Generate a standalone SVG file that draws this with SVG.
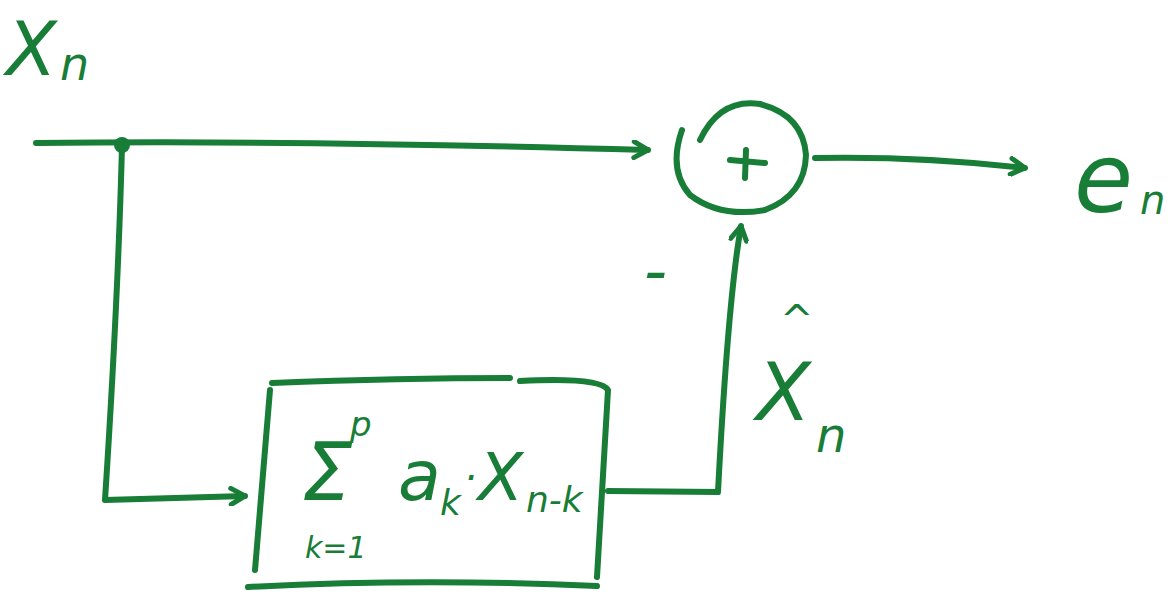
<svg xmlns="http://www.w3.org/2000/svg" width="1171" height="596" viewBox="0 0 1171 596">
<defs>
<style>
.s{fill:none;stroke:#187d36;stroke-width:6;stroke-linecap:round;stroke-linejoin:round}
.t{fill:#187d36;font-family:"DejaVu Sans",sans-serif;font-style:oblique}
</style>
<marker id="ah" viewBox="0 0 20 20" refX="17" refY="10" markerWidth="20" markerHeight="20" markerUnits="userSpaceOnUse" orient="auto">
<path d="M3,2 L17,10 L3,18" fill="none" stroke="#187d36" stroke-width="5" stroke-linecap="round" stroke-linejoin="round"/>
</marker>
</defs>
<rect width="1171" height="596" fill="#fff"/>
<g id="connectors">
<path class="s" d="M36,143 Q300,140 648,150" marker-end="url(#ah)"/>
<path class="s" d="M122,146 Q118,300 105,500 L245,496" marker-end="url(#ah)"/>
<path class="s" d="M608,491 L718,492 Q728,300 741,226" marker-end="url(#ah)"/>
<path class="s" d="M815,158 Q920,156 1025,168" marker-end="url(#ah)"/>
<circle cx="122" cy="145" r="8" fill="#187d36"/>
</g>
<g id="input">
<text class="t" x="6" y="75" font-size="74">X</text>
<text class="t" x="60" y="80" font-size="46">n</text>
</g>
<g id="sum">
<path class="s" d="M682,130 Q668,170 690,195 Q720,218 765,210 Q805,195 806,155 Q803,115 760,104 Q720,98 700,140"/>
<path class="s" d="M730,160 L765,163 M746,150 L745,178"/>
<text class="t" x="644" y="293" font-size="64">-</text>
</g>
<g id="output">
<text class="t" x="1074" y="212" font-size="96">e</text>
<text class="t" x="1140" y="214" font-size="40">n</text>
</g>
<g id="predictor">
<path class="s" d="M272,383 Q400,378 510,378 M520,381 Q600,377 608,390 L597,577 M270,390 L255,570 M248,587 Q420,578 597,586"/>
<text class="t" x="302" y="500" font-size="80">Σ</text>
<text class="t" x="350" y="436" font-size="34">p</text>
<text class="t" x="305" y="558" font-size="30">k=1</text>
<text class="t" x="398" y="500" font-size="70">a</text>
<text class="t" x="440" y="515" font-size="36">k</text>
<text class="t" x="464" y="492" font-size="40">·</text>
<text class="t" x="478" y="500" font-size="66">X</text>
<text class="t" x="526" y="512" font-size="36">n-k</text>
</g>
<g id="estimate">
<text class="t" x="756" y="420" font-size="80">X</text>
<text class="t" x="780" y="334" font-size="40">^</text>
<text class="t" x="816" y="452" font-size="48">n</text>
</g>
</svg>
